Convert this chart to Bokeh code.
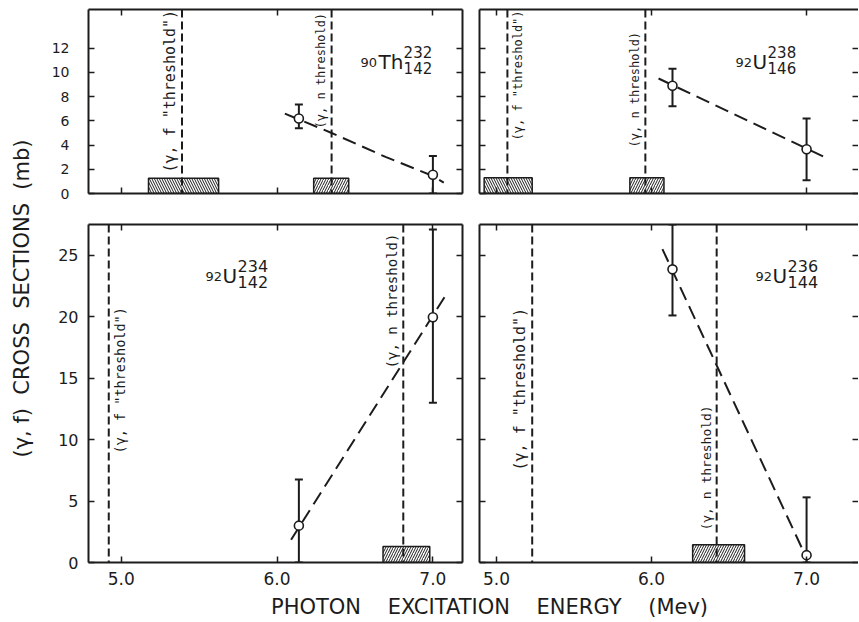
import math
from bokeh.plotting import figure
from bokeh.models import (LinearAxis, FixedTicker, Span, Range1d, Label,
                          NumeralTickFormatter)
from bokeh.layouts import row, column
from bokeh.embed import file_html
from bokeh.resources import INLINE
from bokeh.core.properties import value

# ---------------- data ----------------
x_ticks = [5.0, 6.0, 7.0]
top_y_ticks = [0, 2, 4, 6, 8, 10, 12]
bottom_y_ticks = [0, 5, 10, 15, 20, 25]

f_label = '(γ, f "threshold")'
n_label = "(γ, n threshold)"

# Th232 (top left)
th232_energy = [6.14, 7.00]
th232_sigma = [6.2, 1.55]
th232_low = [5.4, 0.0]
th232_high = [7.35, 3.1]
th232_curve_x = [6.05, 6.35, 6.70, 7.00, 7.07]
th232_curve_y = [6.6, 5.0, 3.0, 1.45, 0.9]
th232_thresholds = [5.39, 6.35]
th232_box_left = [5.175, 6.235]
th232_box_right = [5.625, 6.46]
th232_box_top = [1.25, 1.25]

# U238 (top right)
u238_energy = [6.135, 7.00]
u238_sigma = [8.9, 3.65]
u238_low = [7.2, 1.1]
u238_high = [10.3, 6.2]
u238_curve_x = [6.045, 7.11]
u238_curve_y = [9.5, 3.05]
u238_thresholds = [5.07, 5.96]
u238_box_left = [4.92, 5.86]
u238_box_right = [5.23, 6.08]
u238_box_top = [1.3, 1.3]

# U234 (bottom left)
u234_energy = [6.14, 7.00]
u234_sigma = [3.0, 19.95]
u234_low = [0.0, 13.0]
u234_high = [6.75, 27.1]
u234_curve_x = [6.09, 7.075]
u234_curve_y = [1.85, 21.6]
u234_thresholds = [4.92, 6.81]
u234_box_left = [6.68]
u234_box_right = [6.98]
u234_box_top = [1.3]

# U236 (bottom right)
u236_energy = [6.135, 7.00]
u236_sigma = [23.85, 0.6]
u236_low = [20.1, 0.0]
u236_high = [27.5, 5.3]
u236_curve_x = [6.07, 6.98]
u236_curve_y = [25.5, 0.9]
u236_thresholds = [5.23, 6.42]
u236_box_left = [6.265]
u236_box_right = [6.60]
u236_box_top = [1.45]

FONT = "DejaVu Sans"
MONO = "DejaVu Sans Mono"
INK = "#1c1c1c"
YGAP = "\u00a0" * 2
XGAP = "\u00a0" * 4


def style_axis(ax, ticks, labels=False, size="14px", standoff=8, line=True, fmt=None):
    ax.ticker = FixedTicker(ticks=ticks)
    ax.minor_tick_line_color = None
    ax.major_tick_in = 6
    ax.major_tick_out = 0
    ax.major_tick_line_width = 1.5
    ax.major_tick_line_color = INK
    ax.axis_line_width = 2
    ax.axis_line_color = INK if line else None
    if fmt is not None:
        ax.formatter = fmt
    if labels:
        ax.major_label_text_font = FONT
        ax.major_label_text_font_size = size
        ax.major_label_text_color = INK
        ax.major_label_standoff = standoff
    else:
        ax.major_label_overrides = {t: "" for t in ticks}
        ax.major_label_text_font_size = "1px"
        ax.major_label_standoff = 0


def make_panel(width, height, xr, yr, yticks, borders, show_x, show_y,
               ylab_size, ylab_standoff, right_line):
    p = figure(width=width, height=height, x_range=Range1d(*xr), y_range=Range1d(*yr),
               output_backend="svg", toolbar_location=None,
               min_border_left=borders[0], min_border_right=borders[1],
               min_border_top=borders[2], min_border_bottom=borders[3])
    p.grid.visible = False
    p.outline_line_color = None
    p.background_fill_color = "white"
    p.border_fill_color = "white"
    p.add_layout(LinearAxis(), "above")
    p.add_layout(LinearAxis(), "right")
    style_axis(p.below[0], x_ticks, labels=show_x, size="17px", standoff=9,
               fmt=NumeralTickFormatter(format="0.0"))
    style_axis(p.above[0], x_ticks)
    style_axis(p.left[0], yticks, labels=show_y, size=ylab_size, standoff=ylab_standoff)
    style_axis(p.right[0], yticks, line=right_line)
    return p


def draw_data(p, energy, sigma, low, high, cx, cy, thresholds,
              bl, br, bt, hatches, labels, iso):
    # hatched energy-resolution boxes
    p.quad(left=bl, right=br, bottom=[0] * len(bl), top=bt, fill_color="white",
           line_color=INK, line_width=1.5, hatch_pattern=hatches, hatch_color=INK,
           hatch_scale=5, hatch_weight=1)
    # threshold lines
    for t in thresholds:
        p.add_layout(Span(location=t, dimension="height", line_color=INK,
                          line_width=2, line_dash="8 4"))
    # threshold labels
    for (lx, ly, side, fs, txt) in labels:
        p.text(x=[lx], y=[ly], text=[txt], angle=math.pi / 2,
               text_font=value(MONO), text_font_size=fs, text_color=INK,
               text_align="left", text_baseline="bottom" if side == "left" else "top")
    # fitted dashed curve
    p.line(cx, cy, line_color=INK, line_width=2, line_dash="14 7")
    # error bars
    p.segment(x0=energy, y0=low, x1=energy, y1=high, line_color=INK, line_width=2)
    p.scatter(energy, high, marker="dash", size=8, line_color=INK, line_width=2)
    p.scatter(energy, low, marker="dash", size=8, line_color=INK, line_width=2)
    # data points
    p.scatter(energy, sigma, marker="circle", size=9, fill_color="white",
              line_color=INK, line_width=1.6)
    # isotope label
    ax_, ay_, pre, sym, mass, neut, dx1, dx2, ssize = iso
    p.text(x=[ax_], y=[ay_], text=[pre], text_font=value(FONT), text_font_size="13px",
           text_color=INK, text_baseline="alphabetic")
    p.text(x=[ax_], y=[ay_], text=[sym], text_font=value(FONT), text_font_size="20px",
           text_color=INK, text_baseline="alphabetic", x_offset=dx1)
    p.text(x=[ax_], y=[ay_], text=[mass], text_font=value(FONT), text_font_size=ssize,
           text_color=INK, text_baseline="alphabetic", x_offset=dx2, y_offset=-10)
    p.text(x=[ax_], y=[ay_], text=[neut], text_font=value(FONT), text_font_size=ssize,
           text_color=INK, text_baseline="alphabetic", x_offset=dx2, y_offset=6)


LX = (4.79, 7.19)
RX = (4.89, 7.335)
TY = (0, 15.2)
BY = (0, 27.5)

tl = make_panel(432, 208, LX, TY, top_y_ticks, (50, 8, 9, 15), False, True, "14px", 19, True)
tr = make_panel(388, 208, RX, TY, top_y_ticks, (9, 0, 9, 15), False, False, "14px", 19, False)
bl = make_panel(432, 384, LX, BY, bottom_y_ticks, (50, 8, 16, 30), True, True, "16px", 10, True)
br = make_panel(388, 384, RX, BY, bottom_y_ticks, (9, 0, 16, 30), True, False, "16px", 10, False)

draw_data(tl, th232_energy, th232_sigma, th232_low, th232_high, th232_curve_x, th232_curve_y,
          th232_thresholds, th232_box_left, th232_box_right, th232_box_top, ["\\", "/"],
          [(5.37, 1.74, "left", "15px", f_label), (6.33, 5.37, "left", "12px", n_label)],
          (6.536, 10.83, "90", "Th", "232", "142", 18, 43, "15px"))
draw_data(tr, u238_energy, u238_sigma, u238_low, u238_high, u238_curve_x, u238_curve_y,
          u238_thresholds, u238_box_left, u238_box_right, u238_box_top, ["\\", "/"],
          [(5.09, 4.38, "right", "12px", f_label), (5.94, 3.8, "left", "12px", n_label)],
          (6.542, 10.83, "92", "U", "238", "146", 17, 32, "15px"))
draw_data(bl, u234_energy, u234_sigma, u234_low, u234_high, u234_curve_x, u234_curve_y,
          u234_thresholds, u234_box_left, u234_box_right, u234_box_top, ["/"],
          [(4.94, 8.87, "right", "13.5px", f_label), (6.79, 15.79, "left", "14px", n_label)],
          (5.541, 23.27, "92", "U", "234", "142", 17, 32, "16px"))
draw_data(br, u236_energy, u236_sigma, u236_low, u236_high, u236_curve_x, u236_curve_y,
          u236_thresholds, u236_box_left, u236_box_right, u236_box_top, ["/"],
          [(5.21, 7.49, "left", "15px", f_label), (6.40, 2.6, "left", "13px", n_label)],
          (6.671, 23.27, "92", "U", "236", "144", 17, 32, "16px"))


def label_fig(w, h):
    f = figure(width=w, height=h, x_range=Range1d(0, w), y_range=Range1d(0, h),
               x_axis_type=None, y_axis_type=None, output_backend="svg",
               toolbar_location=None, min_border=0)
    f.grid.visible = False
    f.outline_line_color = None
    f.background_fill_color = "white"
    f.border_fill_color = "white"
    return f


ylab = label_fig(38, 621)
ylab.add_layout(Label(x=21, y=323,
                      text="(γ, f)" + YGAP + "CROSS" + YGAP + "SECTIONS" + YGAP + "(mb)",
                      angle=math.pi / 2, text_align="center", text_baseline="middle",
                      text_font=FONT, text_font_size="21px", text_color=INK))

xlab = label_fig(820, 29)
xlab.add_layout(Label(x=451, y=15,
                      text="PHOTON" + XGAP + "EXCITATION" + XGAP + "ENERGY" + XGAP + "(Mev)",
                      text_align="center", text_baseline="middle",
                      text_font=FONT, text_font_size="21px", text_color=INK))

layout = row(ylab, column(row(tl, tr), row(bl, br), xlab))

open("out.html", "w").write(file_html(layout, INLINE))
